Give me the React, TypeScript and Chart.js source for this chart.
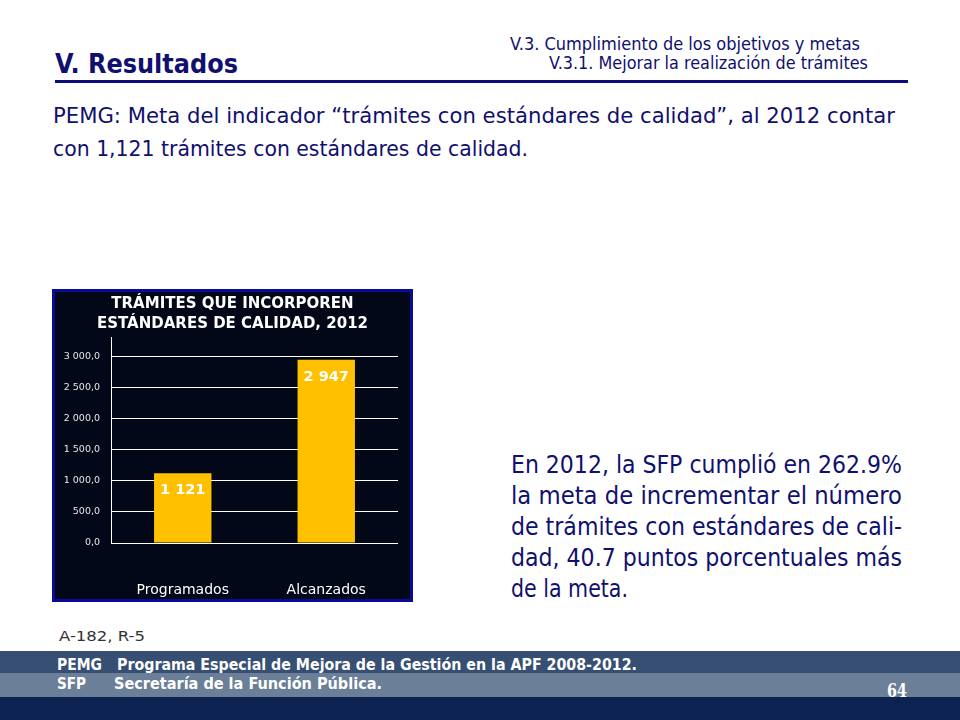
import React, { useEffect, useRef } from "react";
import { Chart, registerables } from "chart.js";

Chart.register(...registerables);

// ---- Chart data ----
const categories = ["Programados", "Alcanzados"];
const values = [1121, 2947];
const valueLabels = ["1 121", "2 947"];
const chartTitle = ["TRÁMITES QUE INCORPOREN", "ESTÁNDARES DE CALIDAD, 2012"];
const yTicks = [0, 500, 1000, 1500, 2000, 2500, 3000];
const yMax = 3300;

// ---- Slide text ----
const NAVY = "#10106e";
const paragraphLines = [
  "En 2012, la SFP cumplió en 262.9%",
  "la meta de incrementar el número",
  "de trámites con estándares de cali-",
  "dad, 40.7 puntos porcentuales más",
  "de la meta.",
];

function fmtTick(v: number): string {
  const fixed = v.toFixed(1);
  const [intPart, dec] = fixed.split(".");
  const withSpaces = intPart.replace(/\B(?=(\d{3})+(?!\d))/g, " ");
  return withSpaces + "," + dec;
}

const barLabelPlugin = {
  id: "barLabels",
  afterDatasetsDraw(chart: any) {
    const ctx = chart.ctx;
    const meta = chart.getDatasetMeta(0);
    ctx.save();
    ctx.fillStyle = "#ffffff";
    ctx.font = "bold 14.5px 'DejaVu Sans'";
    ctx.textAlign = "center";
    ctx.textBaseline = "middle";
    meta.data.forEach((bar: any, i: number) => {
      ctx.fillText(valueLabels[i], bar.x, bar.y + 17);
    });
    ctx.restore();
  },
};

// keep the title centred on the framed box (slightly right of the canvas centre)
const titleShiftPlugin = {
  id: "titleShift",
  afterLayout(chart: any) {
    const tb = chart.titleBlock;
    if (tb) {
      tb.left = 12;
      tb.width = tb.right - tb.left;
    }
  },
};

function BarChart() {
  const ref = useRef<HTMLCanvasElement | null>(null);
  useEffect(() => {
    if (!ref.current) return;
    const chart = new Chart(ref.current, {
      type: "bar",
      data: {
        labels: categories,
        datasets: [
          {
            data: values,
            backgroundColor: "#ffc000",
            borderWidth: 0,
            barPercentage: 0.4,
            categoryPercentage: 1,
          },
        ],
      },
      options: {
        animation: false,
        responsive: true,
        maintainAspectRatio: false,
        layout: { padding: { left: 0, right: 12, top: 0, bottom: 0 } },
        plugins: {
          legend: { display: false },
          tooltip: { enabled: false },
          title: {
            display: true,
            text: chartTitle,
            color: "#ffffff",
            font: { family: "'DejaVu Sans'", size: 15, weight: "bold", lineHeight: 1.33 },
            padding: { top: 2, bottom: 4 },
          },
        },
        scales: {
          y: {
            min: 0,
            max: yMax,
            afterBuildTicks: (scale: any) => {
              scale.ticks = yTicks.map((v) => ({ value: v }));
            },
            afterFit: (scale: any) => {
              scale.width = 56;
            },
            ticks: {
              color: "#e6e6e6",
              font: { family: "'DejaVu Sans'", size: 9.5 },
              padding: 11,
              callback: (v: any) => fmtTick(Number(v)),
            },
            grid: { color: "#ffffff", lineWidth: 1, drawTicks: false },
            border: { color: "#ffffff", width: 1 },
          },
          x: {
            afterFit: (scale: any) => {
              scale.height = 56;
            },
            grid: { display: false },
            border: { display: false },
            ticks: {
              color: "#ffffff",
              font: { family: "'DejaVu Sans'", size: 14 },
              padding: 31,
            },
          },
        },
      },
      plugins: [barLabelPlugin, titleShiftPlugin],
    } as any);
    return () => chart.destroy();
  }, []);
  return <canvas ref={ref} />;
}

type Line = {
  text: string;
  x: number;
  y: number;
  len: number;
  size: number;
  family: string;
  weight?: string;
  fill: string;
};

function SvgText({ l }: { l: Line }) {
  return (
    <text
      x={l.x}
      y={l.y}
      textLength={l.len}
      lengthAdjust="spacingAndGlyphs"
      fontFamily={l.family}
      fontSize={l.size}
      fontWeight={l.weight || "normal"}
      fill={l.fill}
    >
      {l.text}
    </text>
  );
}

export default function App() {
  const paraBaselines = [473, 504, 535, 566, 597];
  const lines: Line[] = [
    { text: "V.3. Cumplimiento de los objetivos y metas", x: 510, y: 50, len: 350, size: 18, family: "DejaVu Sans Condensed", fill: NAVY },
    { text: "V.3.1. Mejorar la realización de trámites", x: 549, y: 69, len: 319, size: 18, family: "DejaVu Sans Condensed", fill: NAVY },
    { text: "V. Resultados", x: 55, y: 73, len: 183, size: 26, family: "DejaVu Sans", weight: "bold", fill: NAVY },
    { text: "PEMG: Meta del indicador “trámites con estándares de calidad”, al 2012 contar", x: 53, y: 123, len: 842, size: 22, family: "DejaVu Sans Condensed", fill: NAVY },
    { text: "con 1,121 trámites con estándares de calidad.", x: 53, y: 156, len: 475, size: 22, family: "DejaVu Sans Condensed", fill: NAVY },
    ...paragraphLines.map((t, i) => ({
      text: t,
      x: 511,
      y: paraBaselines[i],
      len: i === paragraphLines.length - 1 ? 117 : 391,
      size: 25,
      family: "DejaVu Sans",
      fill: NAVY,
    })),
    { text: "A-182, R-5", x: 59, y: 641, len: 86, size: 14, family: "DejaVu Sans Condensed", fill: "#333333" },
    { text: "PEMG", x: 57, y: 670, len: 45, size: 15, family: "DejaVu Sans Condensed", weight: "bold", fill: "#ffffff" },
    { text: "Programa Especial de Mejora de la Gestión en la APF 2008-2012.", x: 117, y: 670, len: 520, size: 15, family: "DejaVu Sans Condensed", weight: "bold", fill: "#ffffff" },
    { text: "SFP", x: 57, y: 689, len: 29, size: 15, family: "DejaVu Sans Condensed", weight: "bold", fill: "#ffffff" },
    { text: "Secretaría de la  Función Pública.", x: 114, y: 689, len: 268, size: 15, family: "DejaVu Sans Condensed", weight: "bold", fill: "#ffffff" },
    { text: "64", x: 887, y: 697, len: 20, size: 19, family: "DejaVu Serif", weight: "bold", fill: "#ffffff" },
  ];

  return (
    <div
      style={{
        position: "absolute",
        left: 0,
        top: 0,
        width: 960,
        height: 720,
        background: "#ffffff",
        overflow: "hidden",
      }}
    >
      <svg
        width={960}
        height={720}
        style={{ position: "absolute", left: 0, top: 0 }}
      >
        <rect x={55} y={80} width={853} height={3} fill="#0c0c78" />
        <rect x={0} y={651} width={960} height={22} fill="#374f72" />
        <rect x={0} y={673} width={960} height={24} fill="#6b7f98" />
        <rect x={0} y={697} width={960} height={23} fill="#0c2352" />
        {lines.map((l, i) => (
          <SvgText key={i} l={l} />
        ))}
      </svg>
      <div
        style={{
          position: "absolute",
          left: 52,
          top: 289,
          width: 361,
          height: 313,
          boxSizing: "border-box",
          border: "3px solid #0a0a98",
          background: "#020817",
        }}
      >
        <div style={{ position: "relative", width: 355, height: 307 }}>
          <BarChart />
        </div>
      </div>
    </div>
  );
}
